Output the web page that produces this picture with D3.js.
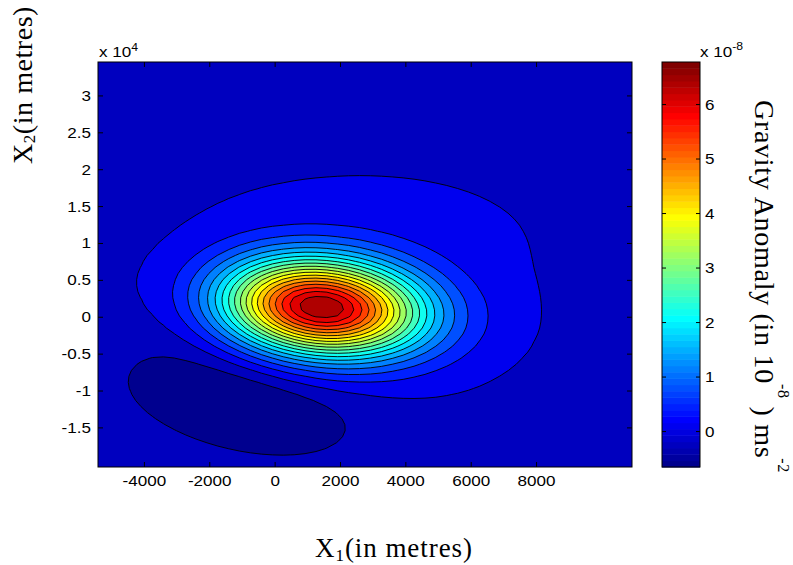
<!DOCTYPE html>
<html lang="en">
<head>
<meta charset="UTF-8"/>
<title>Gravity anomaly contour</title>
<script src="https://d3js.org/d3.v7.min.js"></script>
<style>
  body { margin:0; background:#fff; }
  .tick-label { font-family:"Liberation Sans", Arial, sans-serif; font-size:14px; fill:#000; }
  .axis-label { font-family:"Liberation Serif", "Times New Roman", serif; fill:#000; }
</style>
</head>
<body>
<script>
// ---------------- data ----------------
var xTicks  = [-4000, -2000, 0, 2000, 4000, 6000, 8000];      // metres
var yTicks  = [-1.5, -1, -0.5, 0, 0.5, 1, 1.5, 2, 2.5, 3];    // x 10^4 metres
var cbTicks = [0, 1, 2, 3, 4, 5, 6];                          // x 10^-8 m/s^2
var xDomain = [-5420, 10920];
var yDomain = [-20300, 34600];
var cRange  = [-0.65, 6.78];

// contour levels (x 10^-8)
var levels = [-0.296, 0.058, 0.411, 0.765, 1.119, 1.473, 1.827, 2.180, 2.534, 2.888,
              3.242, 3.596, 3.949, 4.303, 4.657, 5.011, 5.365, 5.718, 6.072, 6.426];

// anomaly sources (centre, amplitude, spread, tilt)
var srcName = ["main body", "northern shoulder", "western low", "southern low"];
var srcX    = [1400, 2750, -2300, -1100];
var srcY    = [1350, 10400, 2300, -11800];
var srcAmp  = [6.75, 0.16, -0.36, -0.69];
var srcSx   = [2140, 3360, 1530, 2550];
var srcSy   = [4500, 6100, 5420, 5300];
var srcRho  = [-0.14, 0, 0, -0.40];

// ---------------- layout ----------------
var w = 793, h = 565;
var pL = 98, pR = 632, pT = 62, pB = 467;
var cbL = 662, cbR = 700;

var svg = d3.select("body").append("svg")
            .attr("width", w).attr("height", h);

var xScale = d3.scaleLinear().domain(xDomain).range([pL, pR]);
var yScale = d3.scaleLinear().domain(yDomain).range([pB, pT]);
var cScale = d3.scaleLinear().domain(cRange).range([pB, pT]);

// matlab jet(64)
function jet(i) {
  var r = i < 25 ? 0 : i <= 40 ? (i - 24) / 16 : i <= 55 ? 1 : (72 - i) / 16;
  var g = i < 9 ? 0 : i <= 24 ? (i - 8) / 16 : i <= 39 ? 1 : i <= 55 ? (56 - i) / 16 : 0;
  var b = i <= 8 ? (i + 8) / 16 : i <= 23 ? 1 : i <= 39 ? (40 - i) / 16 : 0;
  return d3.rgb(r * 255, g * 255, b * 255).toString();
}
function colorOf(v) {
  var idx = Math.floor((v - cRange[0]) / (cRange[1] - cRange[0]) * 64) + 1;
  return jet(Math.max(1, Math.min(64, idx)));
}

// ---------------- grid ----------------
var nx = 50, ny = 68;
var dx = (xDomain[1] - xDomain[0]) / (nx - 1);
var dy = (yDomain[1] - yDomain[0]) / (ny - 1);
var values = new Array(nx * ny);
for (var j = 0; j < ny; j++) {
  for (var i = 0; i < nx; i++) {
    var gx = xDomain[0] + i * dx, gy = yDomain[0] + j * dy, v = 0;
    for (var k = 0; k < srcX.length; k++) {
      var u = (gx - srcX[k]) / srcSx[k], s = (gy - srcY[k]) / srcSy[k], rho = srcRho[k];
      var q = (u * u - 2 * rho * u * s + s * s) / (1 - rho * rho);
      v += srcAmp[k] * Math.exp(-q / 2);
    }
    values[j * nx + i] = v;
  }
}

var contours = d3.contours().size([nx, ny]).thresholds(levels)(values);

var proj = d3.geoTransform({
  point: function(px, py) {
    this.stream.point(xScale(xDomain[0] + (px - 0.5) * dx), yScale(yDomain[0] + (py - 0.5) * dy));
  }
});
var path = d3.geoPath(proj);

svg.append("clipPath").attr("id", "plotclip")
   .append("rect").attr("x", pL).attr("y", pT)
   .attr("width", pR - pL).attr("height", pB - pT);

var plot = svg.append("g").attr("clip-path", "url(#plotclip)");

plot.append("rect")
    .attr("x", pL).attr("y", pT)
    .attr("width", pR - pL).attr("height", pB - pT)
    .attr("fill", colorOf(cRange[0]));

plot.selectAll("path.level")
    .data(contours)
    .enter()
    .append("path")
    .attr("class", "level")
    .attr("d", path)
    .attr("fill", function(d) { return colorOf(d.value); })
    .attr("stroke", "#000")
    .attr("stroke-width", 0.9)
    .attr("stroke-linejoin", "round");

// ---------------- axes box + ticks ----------------
svg.append("rect")
   .attr("x", pL).attr("y", pT)
   .attr("width", pR - pL).attr("height", pB - pT)
   .attr("fill", "none").attr("stroke", "#000").attr("stroke-width", 1);

var tl = 5;
xTicks.forEach(function(t) {
  var px = xScale(t);
  svg.append("line").attr("x1", px).attr("x2", px).attr("y1", pB).attr("y2", pB - tl).attr("stroke", "#000");
  svg.append("line").attr("x1", px).attr("x2", px).attr("y1", pT).attr("y2", pT + tl).attr("stroke", "#000");
  svg.append("text").attr("class", "tick-label")
     .attr("text-anchor", "middle")
     .attr("transform", "translate(" + px + "," + 486 + ") scale(1.22,1)")
     .text(t);
});
yTicks.forEach(function(t) {
  var py = yScale(t * 1e4);
  svg.append("line").attr("x1", pL).attr("x2", pL + tl).attr("y1", py).attr("y2", py).attr("stroke", "#000");
  svg.append("line").attr("x1", pR).attr("x2", pR - tl).attr("y1", py).attr("y2", py).attr("stroke", "#000");
  svg.append("text").attr("class", "tick-label")
     .attr("text-anchor", "end")
     .attr("transform", "translate(" + 91 + "," + (py + 5) + ") scale(1.22,1)")
     .text(t);
});

// exponent of y axis
var ex = svg.append("text").attr("class", "tick-label")
            .attr("transform", "translate(99,57) scale(1.22,1)");
ex.append("tspan").text("x 10");
ex.append("tspan").attr("font-size", "10px").attr("dy", -6).text("4");

// ---------------- colorbar ----------------
var bands = d3.range(1, 65);
var cb = svg.append("g");
cb.selectAll("rect")
  .data(bands)
  .enter()
  .append("rect")
  .attr("x", cbL)
  .attr("width", cbR - cbL)
  .attr("y", function(d) { return cScale(cRange[0] + d / 64 * (cRange[1] - cRange[0])); })
  .attr("height", (pB - pT) / 64 + 0.5)
  .attr("fill", function(d) { return jet(d); });

cb.append("rect")
  .attr("x", cbL).attr("y", pT)
  .attr("width", cbR - cbL).attr("height", pB - pT)
  .attr("fill", "none").attr("stroke", "#000").attr("stroke-width", 1);

cbTicks.forEach(function(t) {
  var py = cScale(t);
  cb.append("line").attr("x1", cbL).attr("x2", cbL + 4).attr("y1", py).attr("y2", py).attr("stroke", "#000");
  cb.append("line").attr("x1", cbR).attr("x2", cbR - 4).attr("y1", py).attr("y2", py).attr("stroke", "#000");
  cb.append("text").attr("class", "tick-label")
    .attr("transform", "translate(" + 705 + "," + (py + 5) + ") scale(1.22,1)")
    .text(t);
});
var cex = svg.append("text").attr("class", "tick-label")
             .attr("transform", "translate(700,57) scale(1.22,1)");
cex.append("tspan").text("x 10");
cex.append("tspan").attr("font-size", "10px").attr("dy", -7).text("-8");

// ---------------- axis labels ----------------
function spread(sel, target) {
  var node = sel.node();
  var wNat = node.getComputedTextLength();
  var n = node.textContent.length;
  sel.style("letter-spacing", ((target - wNat) / n) + "px");
}

var xl = svg.append("text").attr("class", "axis-label")
            .attr("font-size", "27px")
            .attr("text-anchor", "middle")
            .attr("x", 394).attr("y", 557);
xl.append("tspan").text("X");
xl.append("tspan").attr("font-size", "17px").attr("dy", 4).text("1");
xl.append("tspan").attr("dy", -4).text("(in metres)");
spread(xl, 158);

var yl = svg.append("text").attr("class", "axis-label")
            .attr("font-size", "28px")
            .attr("transform", "translate(32,164) rotate(-90)");
yl.append("tspan").text("X");
yl.append("tspan").attr("font-size", "17px").attr("dy", 3).text("2");
yl.append("tspan").attr("dy", -3).text("(in metres)");
spread(yl, 158);

var cl = svg.append("text").attr("class", "axis-label")
            .attr("font-size", "28px")
            .attr("transform", "translate(755,100) rotate(90)");
cl.append("tspan").text("Gravity Anomaly (in 10");
cl.append("tspan").attr("font-size", "16px").attr("dy", -23).text("-8");
cl.append("tspan").attr("dy", 23).text(" ) ms");
cl.append("tspan").attr("font-size", "16px").attr("dy", -23).text("-2");
spread(cl, 373);
</script>
</body>
</html>
